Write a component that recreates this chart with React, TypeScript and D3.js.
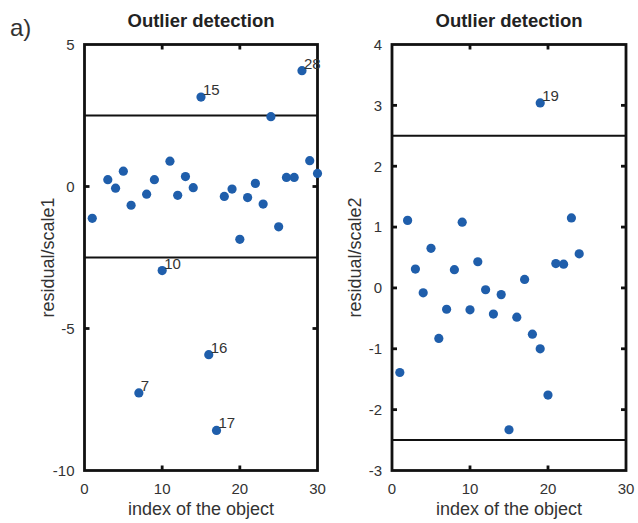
import React from "react";
import * as d3 from "d3";

const xTicks = [0, 10, 20, 30];
const leftYTicks = [-10, -5, 0, 5];
const rightYTicks = [-3, -2, -1, 0, 1, 2, 3, 4];
const thresholds = [-2.5, 2.5];

const leftX = [1, 3, 4, 5, 6, 7, 8, 9, 10, 11, 12, 13, 14, 15, 16, 17, 18, 19, 20, 21, 22, 23, 24, 25, 26, 27, 28, 29, 30];
const leftY = [-1.12, 0.24, -0.06, 0.54, -0.66, -7.27, -0.27, 0.24, -2.96, 0.89, -0.31, 0.35, -0.04, 3.15, -5.92, -8.59, -0.35, -0.09, -1.86, -0.39, 0.11, -0.62, 2.46, -1.42, 0.32, 0.32, 4.08, 0.91, 0.46];
const leftLabels = ["", "", "", "", "", "7", "", "", "10", "", "", "", "", "15", "16", "17", "", "", "", "", "", "", "", "", "", "", "28", "", ""];

const rightX = [1, 2, 3, 4, 5, 6, 7, 8, 9, 10, 11, 12, 13, 14, 15, 16, 17, 18, 19, 19, 20, 21, 22, 23, 24];
const rightY = [-1.39, 1.11, 0.31, -0.08, 0.65, -0.83, -0.35, 0.3, 1.08, -0.36, 0.43, -0.03, -0.43, -0.11, -2.33, -0.48, 0.14, -0.76, 3.04, -1.0, -1.76, 0.4, 0.39, 1.15, 0.56];
const rightLabels = ["", "", "", "", "", "", "", "", "", "", "", "", "", "", "", "", "", "", "19", "", "", "", "", "", ""];

const FONT = "'Liberation Sans', Arial, Helvetica, sans-serif";
const TEXT = "#333";
const DOT = "#1f5eab";

type PanelProps = {
  left: number;
  right: number;
  top: number;
  bottom: number;
  yDomain: [number, number];
  yTicks: number[];
  xs: number[];
  ys: number[];
  labels: string[];
  yLabel: string;
};

function Panel(p: PanelProps) {
  const x = d3.scaleLinear().domain([0, 30]).range([p.left, p.right]);
  const y = d3.scaleLinear().domain(p.yDomain).range([p.bottom, p.top]);
  const tl = 5;
  const cx = (p.left + p.right) / 2;
  const cy = (p.top + p.bottom) / 2;
  return (
    <g>
      <text x={cx} y={27} textAnchor="middle" fontFamily={FONT} fontWeight="bold" fontSize={18.5} fill="#222">
        Outlier detection
      </text>
      {thresholds.map((t) => (
        <line key={t} x1={p.left} x2={p.right} y1={y(t)} y2={y(t)} stroke="#111" strokeWidth={2} />
      ))}
      {xTicks.slice(1, -1).map((t) => (
        <g key={"xt" + t}>
          <line x1={x(t)} x2={x(t)} y1={p.bottom} y2={p.bottom - tl} stroke="#111" strokeWidth={2.8} />
          <line x1={x(t)} x2={x(t)} y1={p.top} y2={p.top + tl} stroke="#111" strokeWidth={2.8} />
        </g>
      ))}
      {p.yTicks.slice(1, -1).map((t) => (
        <g key={"yt" + t}>
          <line x1={p.left} x2={p.left + tl} y1={y(t)} y2={y(t)} stroke="#111" strokeWidth={2.8} />
          <line x1={p.right} x2={p.right - tl} y1={y(t)} y2={y(t)} stroke="#111" strokeWidth={2.8} />
        </g>
      ))}
      <rect x={p.left} y={p.top} width={p.right - p.left} height={p.bottom - p.top} fill="none" stroke="#111" strokeWidth={2.8} />
      {xTicks.map((t) => (
        <text key={"xl" + t} x={x(t)} y={494} textAnchor="middle" fontFamily={FONT} fontSize={15} fill={TEXT}>
          {t}
        </text>
      ))}
      {p.yTicks.map((t) => (
        <text key={"yl" + t} x={p.left - 10} y={y(t)} dy="0.36em" textAnchor="end" fontFamily={FONT} fontSize={15} fill={TEXT}>
          {t}
        </text>
      ))}
      <text x={cx} y={515} textAnchor="middle" fontFamily={FONT} fontSize={18} fill={TEXT}>
        index of the object
      </text>
      <text
        transform={`translate(${p.left - 31},${cy}) rotate(-90)`}
        textAnchor="middle"
        fontFamily={FONT}
        fontSize={18}
        fill={TEXT}
      >
        {p.yLabel}
      </text>
      {p.xs.map((v, i) => (
        <circle key={"c" + i} cx={x(v)} cy={y(p.ys[i])} r={4.6} fill={DOT} />
      ))}
      {p.xs.map((v, i) =>
        p.labels[i] ? (
          <text key={"t" + i} x={x(v) + 2} y={y(p.ys[i]) - 2} fontFamily={FONT} fontSize={15} fill={TEXT}>
            {p.labels[i]}
          </text>
        ) : null
      )}
    </g>
  );
}

export default function App() {
  return (
    <svg width={638} height={523} style={{ position: "absolute", left: 0, top: 0, background: "#fff" }}>
      <rect width={638} height={523} fill="#fff" />
      <text x={10} y={36} fontFamily={FONT} fontSize={24} fill={TEXT}>
        a)
      </text>
      <Panel
        left={84.5}
        right={317.5}
        top={44.5}
        bottom={470.5}
        yDomain={[-10, 5]}
        yTicks={leftYTicks}
        xs={leftX}
        ys={leftY}
        labels={leftLabels}
        yLabel="residual/scale1"
      />
      <Panel
        left={392}
        right={626}
        top={44.5}
        bottom={470.5}
        yDomain={[-3, 4]}
        yTicks={rightYTicks}
        xs={rightX}
        ys={rightY}
        labels={rightLabels}
        yLabel="residual/scale2"
      />
    </svg>
  );
}
